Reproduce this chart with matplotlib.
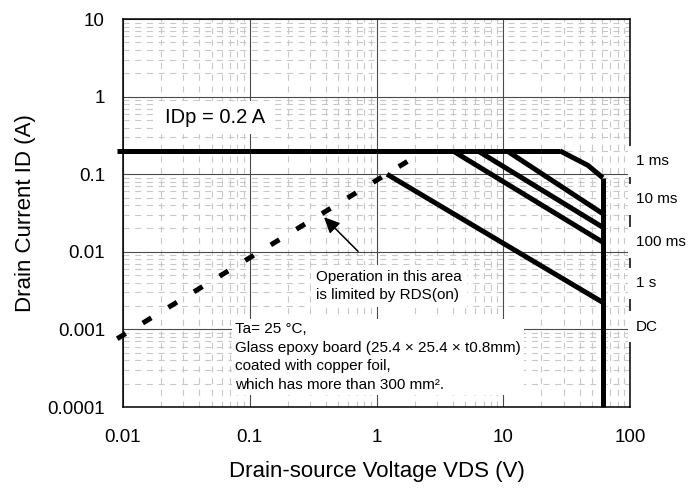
import matplotlib
matplotlib.use("Agg")
import matplotlib.pyplot as plt
from matplotlib.ticker import FixedLocator, NullFormatter

plt.rcParams['font.family'] = ['Liberation Sans', 'DejaVu Sans']

# safe operating area curves
idp_v = [0.009, 28]
idp_i = [0.2, 0.2]
ms1_v = [28, 46.6, 61]
ms1_i = [0.2, 0.13, 0.09]
vmax_v = [61, 61]
vmax_i = [0.09, 0.0001]
ms10_v = [10.7, 61]
ms10_i = [0.2, 0.031]
ms100_v = [6.3, 61]
ms100_i = [0.2, 0.0207]
s1_v = [4.0, 61]
s1_i = [0.2, 0.0133]
dc_v = [1.21, 61]
dc_i = [0.1, 0.00223]
rds_v = [0.009, 2.4]
rds_i = [0.00076, 0.2]

x_ticks = [0.01, 0.1, 1, 10, 100]
x_labels = ["0.01", "0.1", "1", "10", "100"]
y_ticks = [0.0001, 0.001, 0.01, 0.1, 1, 10]
y_labels = ["0.0001", "0.001", "0.01", "0.1", "1", "10"]

pulse_labels = ["1 ms", "10 ms", "100 ms", "1 s", "DC"]
pulse_label_i = [0.147, 0.0475, 0.0133, 0.00393, 0.00109]

fig = plt.figure(figsize=(6.96, 4.94), dpi=100)
ax = fig.add_axes([0.1767, 0.176, 0.7285, 0.7855])
ax.set_xscale("log")
ax.set_yscale("log")
ax.set_xlim(0.01, 100)
ax.set_ylim(0.0001, 10)

ax.xaxis.set_major_locator(FixedLocator(x_ticks))
ax.set_xticklabels(x_labels)
ax.yaxis.set_major_locator(FixedLocator(y_ticks))
ax.set_yticklabels(y_labels)
minors_x = [m * 10.0 ** e for e in range(-2, 2) for m in range(2, 10)]
minors_y = [m * 10.0 ** e for e in range(-4, 1) for m in range(2, 10)]
ax.xaxis.set_minor_locator(FixedLocator(minors_x))
ax.yaxis.set_minor_locator(FixedLocator(minors_y))
ax.xaxis.set_minor_formatter(NullFormatter())
ax.yaxis.set_minor_formatter(NullFormatter())
ax.tick_params(which="both", length=0)
ax.tick_params(axis="x", labelsize=13.5, pad=16)
ax.tick_params(axis="y", labelsize=13.5, pad=13)

ax.set_axisbelow(True)
ax.grid(which="major", color="#4a4a4a", lw=0.8)
ax.grid(which="minor", color="#c8c8c8", lw=0.8, linestyle=(0, (5.5, 5)))
for s in ax.spines.values():
    s.set_linewidth(1.1)
    s.set_color("black")

lw = 3.6
kw = dict(color="black", lw=lw, solid_capstyle="butt", solid_joinstyle="miter",
          clip_on=False, zorder=4)
ax.plot(idp_v, idp_i, **kw)
ax.plot(ms1_v, ms1_i, **kw)
ax.plot(vmax_v, vmax_i, **kw)
ax.plot(ms10_v, ms10_i, **kw)
ax.plot(ms100_v, ms100_i, **kw)
ax.plot(s1_v, s1_i, **kw)
ax.plot(dc_v, dc_i, **kw)
ax.plot(rds_v, rds_i, color="black", lw=lw, linestyle=(0, (2, 4)),
        dash_capstyle="butt", clip_on=False, zorder=4)

ax.annotate("", xy=(0.372, 0.0296), xytext=(0.741, 0.00957),
            arrowprops=dict(arrowstyle="-|>,head_length=0.95,head_width=0.45",
                            color="black", lw=1.1), zorder=4)

ax.text(0.0214, 0.543, "IDp = 0.2 A", fontsize=14.5, ha="left", va="center",
        bbox=dict(boxstyle="square,pad=0.35", fc="white", ec="none"), zorder=3)
ax.text(0.333, 0.00364, "Operation in this area\nis limited by RDS(on)",
        fontsize=11, ha="left", va="center", linespacing=1.35,
        bbox=dict(boxstyle="square,pad=0.35", fc="white", ec="none"), zorder=3)
ax.text(0.0766, 0.000442,
        "Ta= 25 °C,\nGlass epoxy board (25.4 × 25.4 × t0.8mm)\n"
        "coated with copper foil,\nwhich has more than 300 mm².",
        fontsize=11, ha="left", va="center", linespacing=1.4,
        bbox=dict(boxstyle="square,pad=0.2", fc="white", ec="none"), zorder=3)

for lab, yi in zip(pulse_labels, pulse_label_i):
    ax.text(1.012, yi, lab, fontsize=11, ha="left", va="center",
            transform=ax.get_yaxis_transform(), clip_on=False, zorder=5,
            bbox=dict(boxstyle="square,pad=0.55", fc="white", ec="none"))

ax.set_xlabel("Drain-source Voltage VDS (V)", fontsize=16)
ax.set_ylabel("Drain Current ID (A)", fontsize=16)
ax.xaxis.set_label_coords(0.5, -0.139)
ax.yaxis.set_label_coords(-0.171, 0.5)

fig.savefig("out.png", dpi=100)
